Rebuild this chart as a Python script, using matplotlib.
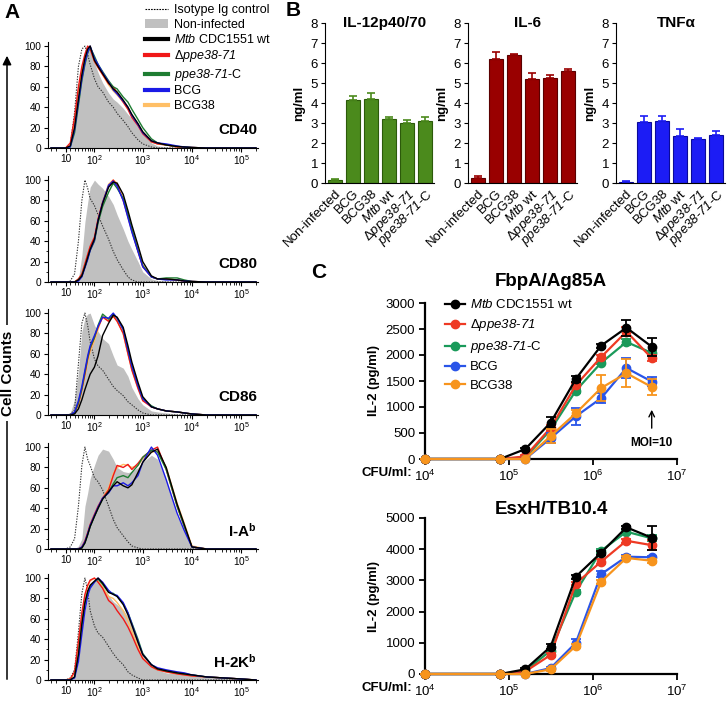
import numpy as np
import matplotlib
matplotlib.use('Agg')
import matplotlib.pyplot as plt
from matplotlib.lines import Line2D
from matplotlib.patches import Patch, FancyArrowPatch
from matplotlib.ticker import FixedLocator

plt.rcParams['font.family'] = ['Liberation Sans', 'DejaVu Sans']
plt.rcParams['mathtext.fontset'] = 'custom'
plt.rcParams['mathtext.rm'] = 'Liberation Sans'
plt.rcParams['mathtext.it'] = 'Liberation Sans:italic'
plt.rcParams['mathtext.sf'] = 'Liberation Sans:italic'   # italic incl. digits
plt.rcParams['mathtext.bf'] = 'Liberation Sans:bold'

# ---------------- data ----------------
# panel A: flow cytometry histograms (% of max) on a shared channel grid
chan = [-20, 10, 20, 30, 40, 50, 60, 70, 80, 100, 120, 150, 200, 250, 300, 400, 500,
        600, 800, 1000, 1500, 2000, 3000, 5000, 7000, 10000, 20000, 100000, 200000]

cd40_iso = [0, 0, 3, 35, 80, 97, 100, 92, 82, 68, 60, 55, 45, 40, 34, 27, 21, 15, 8, 4, 1, 0, 0, 0, 0, 0, 0, 0, 0]
cd40_non = [0, 0, 3, 25, 55, 78, 90, 97, 100, 84, 74, 64, 54, 48, 45, 39, 33, 29, 23, 15, 5, 2, 1, 0.5, 0, 0, 0, 0, 0]
cd40_wt = [0, 0, 2, 20, 48, 72, 88, 97, 100, 86, 80, 73, 64, 58, 55, 47, 40, 33, 24, 16, 7, 5, 3, 1.5, 1, 0.5, 0, 0, 0]
cd40_ko = [0, 0, 5, 30, 60, 80, 92, 100, 97, 85, 79, 72, 63, 60, 54, 45, 38, 30, 22, 14, 6, 4, 3, 1, 0.5, 0.5, 0, 0, 0]
cd40_comp = [0, 0, 1, 15, 42, 66, 82, 93, 99, 90, 82, 75, 66, 60, 58, 50, 45, 38, 28, 20, 9, 5, 3, 1.5, 1, 0.5, 0, 0, 0]
cd40_bcg = [0, 0, 1, 18, 45, 68, 84, 94, 100, 88, 82, 74, 65, 57, 53, 46, 40, 32, 23, 15, 7, 5, 4, 2, 1, 0.5, 0, 0, 0]
cd40_bcg38 = [0, 0, 3, 25, 55, 75, 88, 97, 100, 85, 79, 72, 62, 56, 52, 45, 38, 31, 23, 15, 6, 4, 3, 1, 0.5, 0.5, 0, 0, 0]

cd80_iso = [0, 0, 1, 8, 40, 80, 100, 92, 82, 75, 66, 55, 42, 30, 22, 12, 5, 2, 0, 0, 0, 0, 0, 0, 0, 0, 0, 0, 0]
cd80_non = [0, 0, 0, 0, 3, 26, 59, 78, 93, 100, 96, 92, 84, 76, 66, 52, 40, 32, 20, 10, 3, 1.5, 1, 0.5, 0, 0, 0, 0, 0]
cd80_wt = [0, 0, 0, 0, 2, 6, 15, 24, 32, 42, 60, 77, 93, 98, 97, 86, 70, 56, 36, 20, 6, 3, 3, 2, 1, 0.5, 0, 0, 0]
cd80_ko = [0, 0, 0, 0, 3, 8, 18, 27, 35, 44, 62, 78, 94, 100, 95, 80, 64, 50, 30, 15, 5, 3, 3, 2, 1, 0.5, 0, 0, 0]
cd80_comp = [0, 0, 0, 0, 2, 6, 15, 23, 31, 40, 58, 74, 88, 97, 92, 82, 66, 52, 31, 16, 5, 3, 4, 4, 2, 0.5, 0, 0, 0]
cd80_bcg = [0, 0, 0, 0, 1, 5, 14, 22, 31, 41, 61, 78, 95, 99, 94, 80, 63, 49, 30, 15, 5, 3, 2, 2, 1, 0.5, 0, 0, 0]
cd80_bcg38 = [0, 0, 0, 0, 3, 7, 17, 26, 34, 43, 63, 79, 96, 100, 97, 84, 67, 53, 33, 17, 5, 3, 3, 2, 1, 0.5, 0, 0, 0]

cd86_iso = [0, 0, 1, 5, 50, 90, 100, 88, 72, 55, 48, 44, 35, 28, 24, 19, 13, 10, 5, 2, 0, 0, 0, 0, 0, 0, 0, 0, 0]
cd86_non = [0, 0, 2, 15, 42, 82, 95, 99, 100, 88, 82, 75, 70, 58, 49, 46, 38, 27, 16, 10, 4, 3, 2, 1, 0.5, 0, 0, 0, 0]
cd86_wt = [0, 0, 0, 1, 6, 15, 25, 33, 40, 47, 58, 78, 90, 98, 96, 86, 68, 52, 32, 18, 8, 6, 4, 3, 2, 1, 0, 0, 0]
cd86_ko = [0, 0, 0, 2, 11, 25, 40, 55, 65, 76, 86, 96, 92, 97, 92, 80, 60, 44, 26, 14, 8, 6, 4, 3, 2, 1, 0, 0, 0]
cd86_comp = [0, 0, 0, 2, 12, 26, 42, 56, 66, 76, 88, 99, 94, 99, 95, 84, 64, 48, 29, 16, 9, 6, 4, 3, 2, 1, 0, 0, 0]
cd86_bcg = [0, 0, 0, 3, 14, 28, 44, 58, 68, 78, 87, 96, 95, 100, 95, 84, 64, 48, 29, 16, 8, 6, 4, 3, 2, 1, 0, 0, 0]
cd86_bcg38 = [0, 0, 0, 2, 10, 24, 38, 52, 62, 73, 84, 97, 92, 97, 92, 80, 60, 45, 27, 15, 8, 6, 4, 3, 2, 1, 0, 0, 0]

iab_iso = [0, 0, 2, 10, 42, 82, 100, 88, 82, 70, 66, 58, 42, 29, 21, 13, 7, 3, 1, 0, 0, 0, 0, 0, 0, 0, 0, 0, 0]
iab_non = [0, 0, 0, 0, 3, 10, 42, 55, 69, 82, 92, 98, 96, 88, 80, 76, 75, 76, 80, 85, 92, 88, 68, 32, 18, 3, 0, 0, 0]
iab_wt = [0, 0, 0, 0, 0, 1, 6, 14, 22, 32, 40, 49, 56, 62, 66, 62, 60, 63, 75, 85, 95, 98, 80, 44, 24, 2, 0, 0, 0]
iab_ko = [0, 0, 0, 0, 0, 2, 8, 16, 24, 34, 42, 50, 58, 72, 82, 80, 83, 78, 84, 90, 97, 100, 78, 42, 22, 2, 0, 0, 0]
iab_comp = [0, 0, 0, 0, 0, 1, 6, 14, 22, 32, 40, 49, 56, 64, 70, 72, 70, 75, 82, 90, 97, 95, 78, 42, 22, 2, 0, 0, 0]
iab_bcg = [0, 0, 0, 0, 0, 2, 7, 15, 23, 33, 41, 50, 55, 62, 62, 65, 62, 65, 72, 85, 100, 92, 68, 35, 18, 2, 0, 0, 0]
iab_bcg38 = [0, 0, 0, 0, 0, 2, 7, 15, 23, 33, 40, 50, 60, 74, 80, 83, 82, 80, 82, 88, 95, 96, 80, 45, 25, 3, 0, 0, 0]

h2k_iso = [0, 0, 2, 10, 47, 85, 100, 88, 68, 53, 46, 42, 33, 26, 21, 15, 8, 5, 2, 0, 0, 0, 0, 0, 0, 0, 0, 0, 0]
h2k_non = [0, 0, 0, 3, 18, 50, 68, 80, 92, 96, 98, 93, 83, 77, 74, 69, 62, 52, 36, 26, 13, 10, 7, 6, 5, 4, 3, 1, 0]
h2k_wt = [0, 0, 0, 3, 25, 55, 76, 87, 93, 97, 100, 95, 86, 84, 82, 74, 64, 54, 37, 25, 15, 11, 9, 7, 6, 5, 3, 1, 0]
h2k_ko = [0, 0, 1, 8, 38, 66, 84, 93, 98, 100, 96, 90, 78, 74, 68, 60, 52, 44, 30, 21, 13, 10, 8, 6, 5, 4, 3, 1, 0]
h2k_comp = [0, 0, 0, 3, 24, 54, 75, 86, 92, 96, 99, 94, 86, 85, 82, 75, 66, 56, 40, 26, 15, 11, 9, 7, 6, 5, 3, 1, 0]
h2k_bcg = [0, 0, 0, 2, 18, 45, 68, 82, 90, 96, 100, 96, 88, 84, 83, 76, 66, 55, 38, 25, 15, 12, 10, 8, 7, 5, 3, 1, 0]
h2k_bcg38 = [0, 0, 1, 7, 35, 63, 82, 92, 97, 100, 97, 91, 82, 80, 76, 68, 58, 48, 33, 22, 13, 10, 8, 6, 5, 4, 3, 1, 0]

flow_names = ['CD40', 'CD80', 'CD86', r'I-A$^{\mathbf{b}}$', r'H-2K$^{\mathbf{b}}$']

# panel B: cytokines (ng/ml)
groups = ['Non-infected', 'BCG', 'BCG38', r'$\mathsf{Mtb}$ wt',
          r'Δ$\mathsf{ppe38}$-$\mathsf{71}$', r'$\mathsf{ppe38}$-$\mathsf{71}$-C']
il12_mean = [0.15, 4.15, 4.22, 3.22, 2.98, 3.12]
il12_err = [0.03, 0.22, 0.30, 0.07, 0.17, 0.16]
il6_mean = [0.25, 6.20, 6.40, 5.20, 5.25, 5.62]
il6_err = [0.10, 0.35, 0.04, 0.30, 0.14, 0.10]
tnf_mean = [0.07, 3.05, 3.12, 2.37, 2.18, 2.42]
tnf_err = [0.05, 0.30, 0.22, 0.33, 0.06, 0.16]

# panel C: IL-2 (pg/ml) vs CFU/ml
cfu = [1e4, 7.8e4, 1.56e5, 3.13e5, 6.25e5, 1.25e6, 2.5e6, 5e6]
fbp_wt = [0, 0, 190, 700, 1540, 2180, 2525, 2160]
fbp_wt_err = [0, 0, 30, 100, 50, 40, 150, 170]
fbp_ko = [0, 0, 50, 600, 1420, 1960, 2450, 1940]
fbp_ko_err = [0, 0, 20, 60, 40, 40, 80, 60]
fbp_comp = [0, 0, 30, 560, 1315, 1850, 2250, 2040]
fbp_comp_err = [0, 0, 20, 50, 40, 30, 50, 40]
fbp_bcg = [0, 0, 0, 400, 820, 1170, 1750, 1490]
fbp_bcg_err = [0, 0, 0, 100, 160, 100, 190, 80]
fbp_bcg38 = [0, 0, 0, 440, 880, 1365, 1650, 1385]
fbp_bcg38_err = [0, 0, 0, 140, 60, 250, 270, 160]

esx_wt = [0, 0, 150, 875, 3120, 3890, 4700, 4370]
esx_wt_err = [0, 0, 30, 80, 60, 60, 50, 380]
esx_ko = [0, 0, 80, 610, 2900, 3600, 4270, 4130]
esx_ko_err = [0, 0, 20, 60, 60, 80, 60, 150]
esx_comp = [0, 0, 100, 750, 2640, 3950, 4560, 4350]
esx_comp_err = [0, 0, 20, 60, 60, 60, 60, 100]
esx_bcg = [0, 0, 0, 190, 1000, 3200, 3760, 3740]
esx_bcg_err = [0, 0, 0, 40, 130, 100, 40, 50]
esx_bcg38 = [0, 0, 0, 150, 900, 2960, 3720, 3630]
esx_bcg38_err = [0, 0, 0, 40, 60, 60, 50, 60]

strain_labels = [r'$\mathsf{Mtb}$ CDC1551 wt', r'Δ$\mathsf{ppe38}$-$\mathsf{71}$',
                 r'$\mathsf{ppe38}$-$\mathsf{71}$-C', 'BCG', 'BCG38']

# ---------------- layout ----------------
W, H = 727, 701
fig = plt.figure(figsize=(W / 100, H / 100), dpi=100)


def box(x0, y0, x1, y1):
    return [x0 / W, 1 - y1 / H, (x1 - x0) / W, (y1 - y0) / H]


# ---------------- panel A ----------------
flow_cols = ['#000000', '#f01818', '#1e7d32', '#1a1ae6', '#ffbf66']
fwd = lambda x: np.arcsinh(np.asarray(x) / 43.0)
inv = lambda y: 43.0 * np.sinh(np.asarray(y))

flow_sets = [
    (cd40_iso, cd40_non, [cd40_wt, cd40_ko, cd40_comp, cd40_bcg, cd40_bcg38]),
    (cd80_iso, cd80_non, [cd80_wt, cd80_ko, cd80_comp, cd80_bcg, cd80_bcg38]),
    (cd86_iso, cd86_non, [cd86_wt, cd86_ko, cd86_comp, cd86_bcg, cd86_bcg38]),
    (iab_iso, iab_non, [iab_wt, iab_ko, iab_comp, iab_bcg, iab_bcg38]),
    (h2k_iso, h2k_non, [h2k_wt, h2k_ko, h2k_comp, h2k_bcg, h2k_bcg38]),
]
zero_lines = [148, 282, 415, 549, 680]
minor_x = [-20, -10, 20, 30, 40, 50, 60, 70, 80, 90] + \
          [m * 10 ** k for k in (2, 3, 4) for m in range(2, 10)] + [2e5]

for (iso, non, curves), name, y0 in zip(flow_sets, flow_names, zero_lines):
    ax = fig.add_axes(box(48, y0 - 106, 258, y0))
    ax.set_xscale('function', functions=(fwd, inv))
    ax.fill_between(chan, non, color='#c0c0c0', lw=0, zorder=1)
    ax.plot(chan, iso, color='#333333', lw=0.8, ls=(0, (1.2, 1.2)), zorder=2)
    for i in [4, 1, 2, 3, 0]:
        ax.plot(chan, curves[i], color=flow_cols[i], lw=1.0, zorder=3)
    ax.set_xlim(-27, 2.2e5)
    ax.set_ylim(0, 104)
    ax.set_xticks([10, 100, 1000, 1e4, 1e5])
    ax.set_xticklabels(['10', '$10^2$', '$10^3$', '$10^4$', '$10^5$'])
    ax.xaxis.set_minor_locator(FixedLocator(minor_x))
    ax.set_yticks([0, 20, 40, 60, 80, 100])
    ax.yaxis.set_minor_locator(FixedLocator([10, 30, 50, 70, 90]))
    ax.tick_params(labelsize=7.3, length=3, width=0.8, pad=2)
    ax.tick_params(axis='x', pad=1)
    ax.tick_params(which='minor', length=1.8, width=0.6)
    for s in ['top', 'right']:
        ax.spines[s].set_visible(False)
    for s in ['left', 'bottom']:
        ax.spines[s].set_linewidth(0.8)
    ax.text(0.995, 0.17, name, transform=ax.transAxes, ha='right', va='center',
            fontsize=11, fontweight='bold')

# legend of panel A
handles_a = [Line2D([], [], color='k', lw=0.8, ls=(0, (1.5, 1))),
             Patch(facecolor='#c0c0c0', edgecolor='none')] + \
            [Line2D([], [], color=c, lw=3) for c in flow_cols]
labels_a = ['Isotype Ig control', 'Non-infected'] + strain_labels
fig.legend(handles_a, labels_a, loc='upper left', bbox_to_anchor=(145 / W, 1 - 4 / H),
           frameon=False, fontsize=9, handlelength=1.8, handletextpad=0.5,
           labelspacing=0.2, borderpad=0, borderaxespad=0)

# Cell counts arrow
fig.add_artist(FancyArrowPatch(posA=(7 / W, 1 - 682 / H), posB=(7 / W, 1 - 53 / H),
                               transform=fig.transFigure, arrowstyle='-|>',
                               mutation_scale=13, lw=1.1, color='k'))
fig.text(8 / W, 1 - 373 / H, 'Cell Counts', rotation=90, ha='center', va='center',
         fontsize=11, fontweight='bold',
         bbox=dict(facecolor='white', edgecolor='none', pad=4))

# ---------------- panel B ----------------
b_sets = [
    ('IL-12p40/70', il12_mean, il12_err, '#4b8a1c', '#2c5a0a', 325),
    ('IL-6', il6_mean, il6_err, '#990000', '#5a0000', 468),
    ('TNFα', tnf_mean, tnf_err, '#1c1cf5', '#0a0a9a', 616),
]
xpos = np.arange(len(groups))
for title, mean, err, col, ecol, x0 in b_sets:
    ax = fig.add_axes(box(x0, 23, x0 + 109, 183))
    ax.bar(xpos, mean, width=0.82, color=col, edgecolor=ecol, lw=0.8,
           yerr=[np.zeros(len(err)), err], capsize=3,
           error_kw=dict(ecolor=col, elinewidth=1.2, capthick=1.2))
    ax.set_xlim(-0.55, 5.5)
    ax.set_ylim(0, 8)
    ax.set_yticks(range(9))
    ax.set_xticks(xpos)
    ax.set_xticklabels(groups, rotation=45, ha='right', rotation_mode='anchor', fontsize=9.5)
    ax.tick_params(axis='x', length=0, pad=3)
    ax.tick_params(axis='y', labelsize=9.5, length=3, width=0.8, pad=2)
    for s in ['top', 'right']:
        ax.spines[s].set_visible(False)
    for s in ['left', 'bottom']:
        ax.spines[s].set_linewidth(0.8)
    ax.set_ylabel('ng/ml', fontsize=9.5, fontweight='bold', labelpad=4)
    ax.text(0.55, 1.0, title, transform=ax.transAxes, ha='center', va='center',
            fontsize=11, fontweight='bold')

# ---------------- panel C ----------------
c_cols = ['#000000', '#ee3a24', '#1a9a5a', '#2a55e8', '#f7941d']
c_sets = [
    ('FbpA/Ag85A', [fbp_wt, fbp_ko, fbp_comp, fbp_bcg, fbp_bcg38],
     [fbp_wt_err, fbp_ko_err, fbp_comp_err, fbp_bcg_err, fbp_bcg38_err],
     303, 459, 3000, 500, 282),
    ('EsxH/TB10.4', [esx_wt, esx_ko, esx_comp, esx_bcg, esx_bcg38],
     [esx_wt_err, esx_ko_err, esx_comp_err, esx_bcg_err, esx_bcg38_err],
     518, 674, 5000, 1000, 509),
]
axes_c = []
for title, means, errs, ytop, ybot, ymax, ystep, ytitle in c_sets:
    ax = fig.add_axes(box(425, ytop, 677, ybot))
    axes_c.append(ax)
    for i, z in zip([2, 1, 3, 0, 4], [3, 4, 5, 6, 7]):
        ax.errorbar(cfu, means[i], yerr=errs[i], color=c_cols[i], marker='o', ms=6,
                    lw=1.6, elinewidth=1.3, capsize=3.5, capthick=1.3,
                    clip_on=False, zorder=z)
    ax.set_xscale('log')
    ax.set_xlim(1e4, 1e7)
    ax.set_ylim(0, ymax)
    ax.set_yticks(np.arange(0, ymax + 1, ystep))
    ax.set_xticks([1e4, 1e5, 1e6, 1e7])
    ax.set_xticklabels(['$10^4$', '$10^5$', '$10^6$', '$10^7$'])
    ax.minorticks_off()
    ax.tick_params(labelsize=9.5, length=4, width=1.3, pad=3)
    for s in ['top', 'right']:
        ax.spines[s].set_visible(False)
    for s in ['left', 'bottom']:
        ax.spines[s].set_linewidth(1.6)
    ax.set_ylabel('IL-2 (pg/ml)', fontsize=9.5, fontweight='bold', labelpad=4)
    fig.text(551 / W, 1 - ytitle / H, title, ha='center', va='center',
             fontsize=13.5, fontweight='bold')
    fig.text(412 / W, 1 - (ybot + 14) / H, 'CFU/ml:', ha='right', va='center',
             fontsize=9.5, fontweight='bold')

ax1 = axes_c[0]
leg_h = [Line2D([], [], color=c, marker='o', ms=6, lw=1.6) for c in c_cols]
ax1.legend(leg_h, strain_labels, loc='upper left', bbox_to_anchor=(0.08, 1.03),
           frameon=False, fontsize=9.5, handlelength=1.5, handletextpad=0.4,
           labelspacing=0.45, borderpad=0, borderaxespad=0)
ax1.annotate('', xy=(5e6, 1000), xytext=(5e6, 540),
             arrowprops=dict(arrowstyle='->', lw=1.0, color='k'))
ax1.text(5e6, 300, 'MOI=10', ha='center', va='center', fontsize=8.5, fontweight='bold')

# panel letters
fig.text(4 / W, 1 - 12 / H, 'A', fontsize=15, fontweight='bold', va='center')
fig.text(286 / W, 1 - 10 / H, 'B', fontsize=15, fontweight='bold', va='center')
fig.text(311 / W, 1 - 272 / H, 'C', fontsize=15, fontweight='bold', va='center')

fig.savefig('out.png', dpi=100)
